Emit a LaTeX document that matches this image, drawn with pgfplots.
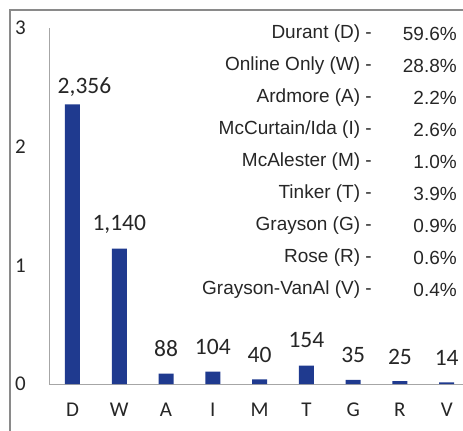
\documentclass[border=0pt]{standalone}
\usepackage{fontspec}
\setmainfont{Carlito}
\newfontfamily\arialf{Liberation Sans}
\usepackage{pgfplots}
\pgfplotsset{compat=1.18}
\definecolor{barblue}{HTML}{1F3A8F}
\definecolor{framegray}{HTML}{8A8A8A}
\definecolor{axgray}{HTML}{A6A6A6}
\definecolor{txt}{HTML}{262626}
\newcommand\listfont{\arialf\fontsize{19bp}{22bp}\selectfont}
\begin{document}
\begin{tikzpicture}
\useasboundingbox (0,0) rectangle (463bp,431bp);
\begin{axis}[
  at={(49bp,47bp)}, anchor=south west,
  scale only axis, width=414bp, height=356bp,
  xmin=-0.502, xmax=8.348, ymin=0, ymax=3000,
  axis x line=bottom, axis y line=left,
  axis line style={axgray, line width=0.8bp, -},
  xtick={0,1,2,3,4,5,6,7,8},
  xticklabels={D,W,A,I,M,T,G,R,V},
  ytick={0,1000,2000,3000}, yticklabels={0,1,2,3},
  major tick length=0pt,
  xticklabel style={anchor=center, yshift=-26bp, font=\fontsize{21bp}{24bp}\selectfont, text=txt},
  yticklabel style={anchor=west, inner sep=0pt, xshift=-34bp, font=\fontsize{21bp}{24bp}\selectfont, text=txt},
  /pgf/number format/assume math mode=true,
  /pgf/number format/1000 sep={,},
  ybar, bar width=15bp,
  nodes near coords,
  visualization depends on={\thisrow{dy} \as \mydy},
  visualization depends on={\thisrow{dx} \as \mydx},
  every node near coord/.append style={anchor=base, inner sep=0pt, xshift=\mydx bp, yshift=\mydy bp, font=\fontsize{23.5bp}{26bp}\selectfont, text=txt},
  clip=false,
]
\addplot[fill=barblue, draw=none] table[x=x, y=y] {
x y dx dy
0 2356 12 11
1 1140 0 18
2 88 0 17
3 104 0 17
4 40 0 17
5 154 0 18
6 35 0 17
7 25 0 17
8 14 0 17
};
\end{axis}
\draw[framegray, line width=2.5bp] (10bp,0) -- (10bp,421bp) -- (464bp,421bp);
\foreach \lab/\pct [count=\i from 0] in {{Durant (D) -}/59.6\%, {Online Only (W) -}/28.8\%, {Ardmore (A) -}/2.2\%, {McCurtain/Ida (I) -}/2.6\%, {McAlester (M) -}/1.0\%, {Tinker (T) -}/3.9\%, {Grayson (G) -}/0.9\%, {Rose (R) -}/0.6\%, {Grayson-VanAl (V) -}/0.4\%}{
  \node[anchor=east, inner sep=0pt, text=txt, font=\listfont] at (372bp,{(431-34-32*\i)*1bp}) {\lab};
  \node[anchor=east, inner sep=0pt, text=txt, font=\listfont] at (457bp,{(431-34-32*\i)*1bp}) {\pct};
}
\end{tikzpicture}
\end{document}
